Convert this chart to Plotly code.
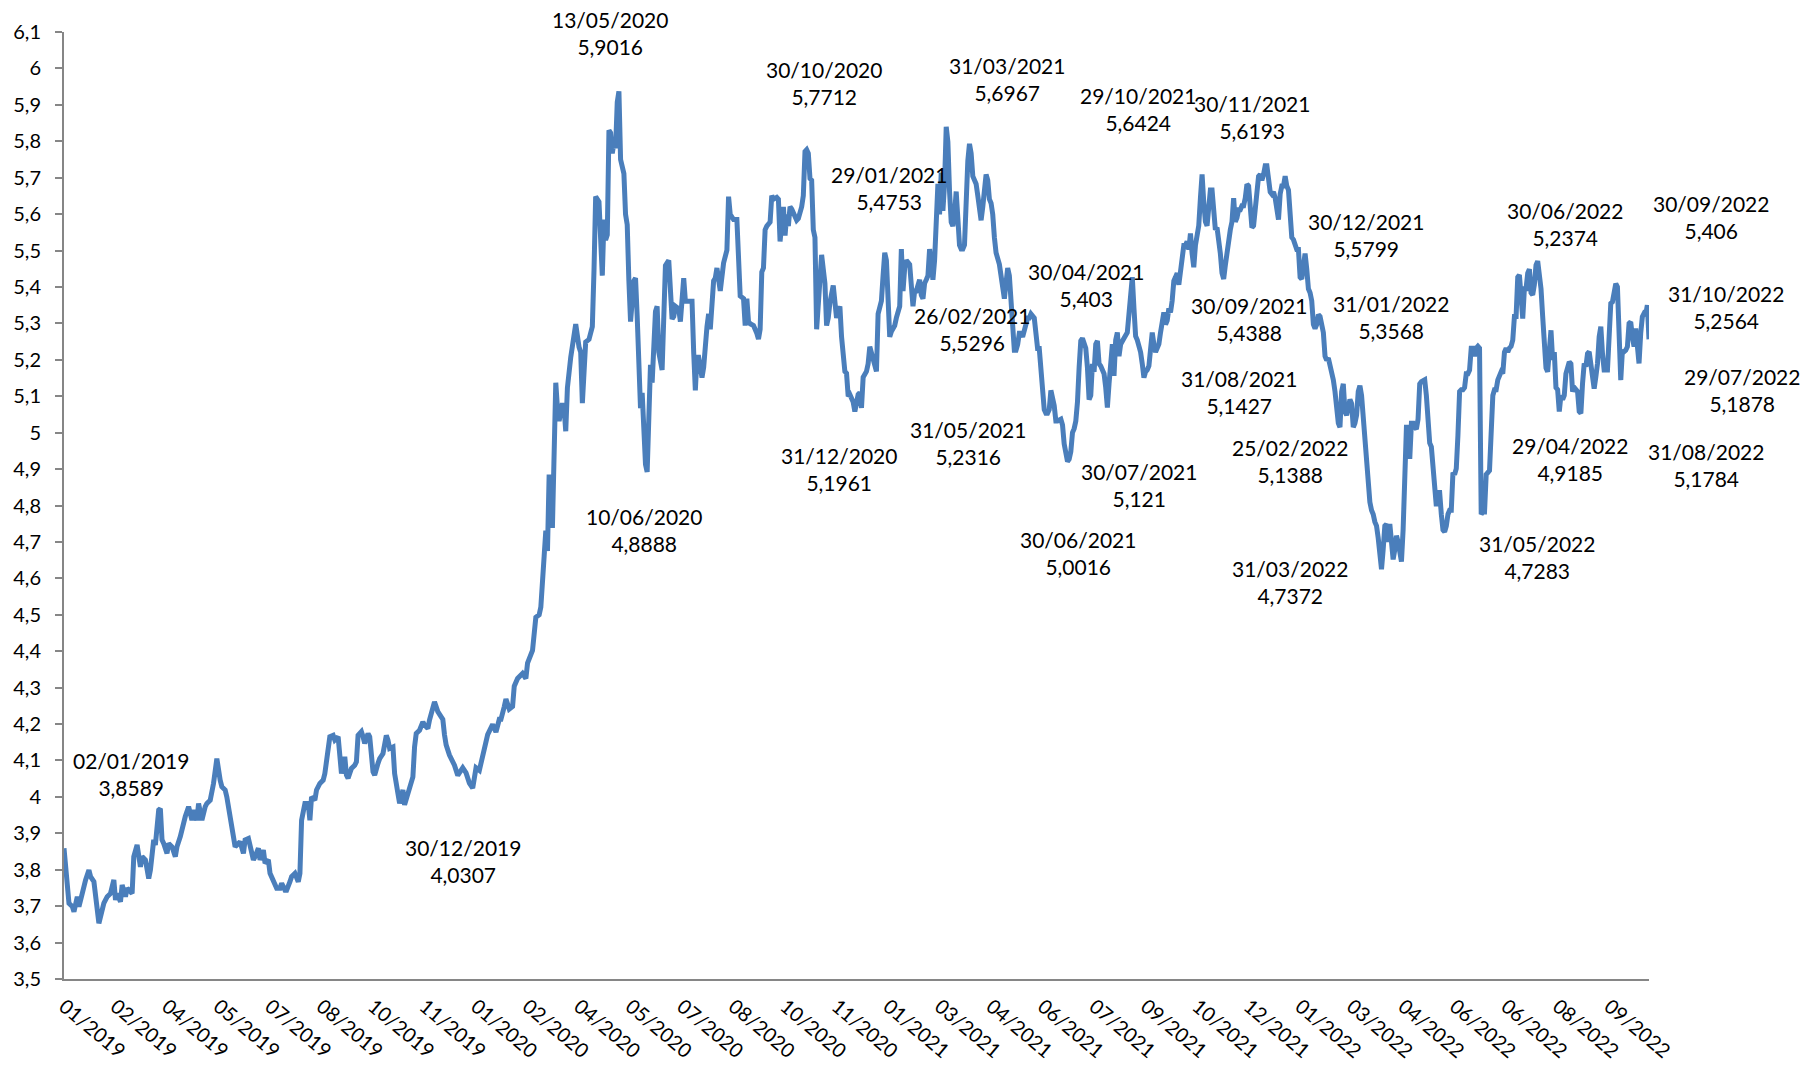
# Cotação diária do dólar (R$/US$), jan/2019 a out/2022
import plotly.graph_objects as go

# número do pregão (dia útil contado a partir de 02/01/2019) e cotação
pregao = [
    0, 2, 3, 5, 6, 8, 9, 11, 12, 13,
    15, 16, 18, 19, 21, 22, 24, 26, 28, 30,
    31, 32, 34, 35, 37, 38, 41, 42, 44, 46,
    47, 49, 51, 52, 54, 55, 57, 58, 59, 60,
    62, 63, 65, 67, 68, 70, 72, 73, 75, 77,
    78, 80, 81, 83, 85, 86, 88, 90, 92, 93,
    94, 95, 97, 98, 100, 102, 103, 105, 106, 108,
    109, 111, 112, 114, 115, 117, 118, 120, 121, 123,
    124, 126, 128, 130, 131, 133, 134, 136, 137, 139,
    141, 142, 143, 145, 147, 148, 149, 151, 152, 154,
    156, 157, 159, 160, 162, 163, 165, 166, 167, 169,
    170, 171, 173, 175, 176, 177, 179, 180, 181, 183,
    184, 186, 187, 189, 190, 192, 194, 195, 196, 198,
    199, 201, 202, 204, 205, 207, 208, 210, 211, 212,
    214, 216, 217, 219, 220, 222, 223, 225, 226, 228,
    229, 230, 232, 235, 237, 240, 242, 244, 246, 248,
    250, 253, 255, 258, 260, 262, 263, 265, 266, 268,
    270, 271, 273, 276, 278, 279, 281, 282, 284, 286,
    287, 288, 289, 290, 291, 292, 293, 294, 295, 296,
    297, 298, 300, 301, 302, 303, 305, 307, 308, 310,
    311, 312, 313, 314, 316, 318, 319, 320, 322, 323,
    324, 325, 326, 327, 328, 329, 330, 331, 332, 333,
    334, 335, 337, 338, 339, 340, 341, 343, 344, 345,
    346, 347, 348, 349, 350, 351, 352, 353, 354, 356,
    357, 358, 360, 361, 362, 363, 364, 366, 367, 368,
    370, 371, 372, 373, 374, 376, 378, 379, 380, 381,
    382, 384, 385, 387, 388, 389, 391, 392, 393, 395,
    396, 397, 399, 400, 401, 403, 405, 406, 407, 409,
    410, 411, 412, 413, 415, 417, 418, 419, 420, 421,
    422, 423, 425, 426, 427, 429, 430, 431, 433, 434,
    435, 436, 437, 438, 440, 441, 442, 444, 445, 446,
    447, 448, 449, 450, 451, 452, 453, 454, 455, 456,
    458, 459, 460, 461, 463, 464, 465, 467, 468, 470,
    471, 472, 473, 475, 476, 478, 479, 480, 481, 483,
    484, 485, 487, 488, 489, 490, 491, 492, 493, 494,
    495, 496, 497, 498, 500, 501, 503, 504, 505, 506,
    507, 509, 510, 511, 512, 513, 515, 516, 517, 518,
    519, 520, 521, 522, 523, 524, 525, 526, 527, 528,
    529, 530, 531, 532, 533, 534, 535, 536, 537, 538,
    539, 540, 541, 542, 543, 544, 545, 546, 547, 549,
    550, 551, 552, 553, 554, 555, 556, 557, 558, 559,
    560, 561, 563, 564, 565, 566, 567, 568, 569, 570,
    571, 572, 573, 574, 575, 576, 577, 578, 579, 580,
    581, 582, 584, 585, 586, 587, 588, 589, 590, 591,
    592, 593, 594, 595, 596, 597, 598, 600, 601, 602,
    603, 604, 605, 606, 607, 608, 609, 610, 611, 612,
    613, 615, 616, 617, 618, 619, 620, 621, 622, 623,
    624, 625, 626, 627, 628, 629, 630, 631, 632, 633,
    634, 635, 636, 637, 638, 640, 641, 642, 643, 644,
    645, 646, 648, 649, 650, 651, 652, 653, 654, 655,
    656, 657, 658, 659, 660, 661, 662, 663, 664, 665,
    666, 667, 668, 669, 670, 671, 672, 673, 674, 675,
    676, 677, 678, 679, 680, 681, 682, 683, 684, 685,
    686, 687, 688, 689, 690, 691, 692, 693, 694, 695,
    696, 697, 698, 699, 700, 701, 702, 703, 704, 705,
    706, 707, 708, 709, 710, 711, 712, 713, 714, 715,
    716, 717, 718, 719, 720, 721, 722, 723, 724, 725,
    726, 727, 728, 729, 730, 731, 732, 733, 734, 735,
    736, 737, 738, 739, 740, 741, 742, 743, 744, 745,
    746, 747, 748, 749, 750, 751, 752, 753, 754, 755,
    756, 757, 758, 759, 760, 761, 762, 763, 764, 765,
    766, 767, 768, 769, 770, 771, 772, 773, 774, 775,
    776, 777, 778, 779, 780, 781, 782, 783, 784, 785,
    786, 787, 788, 789, 790, 791, 792, 793, 794, 795,
    796, 797, 798, 799, 800, 801, 802, 803, 804, 805,
    806, 807, 808, 809, 810, 811, 812, 813, 814, 815,
    816, 817, 818, 819, 820, 821, 822, 823, 824, 825,
    826, 827, 828, 829, 830, 831, 832, 833, 834, 835,
    836, 837, 838, 839, 840, 841, 842, 843, 844, 845,
    846, 847, 848, 849, 850, 851, 852, 853, 854, 855,
    856, 858, 859, 860, 861, 862, 863, 864, 865, 866,
    867, 868, 869, 870, 871, 872, 873, 874, 875, 876,
    877, 878, 879, 880, 881, 882, 883, 884, 885, 886,
    887, 888, 889, 890, 891, 892, 893, 894, 895, 896,
    897, 898, 899, 900, 901, 902, 903, 904, 905, 906,
    907, 908, 909, 910, 911, 912, 913, 914, 915, 916,
    917, 918, 919, 920, 921, 922, 923, 924, 925, 926,
    927, 929, 930, 931, 932, 933, 934, 935, 936, 937,
    938, 939, 940, 941, 942, 943, 944, 945, 946, 947,
    948, 949, 950, 951, 952, 953, 954,
]
cotacao = [
    3.8589, 3.763, 3.708, 3.699, 3.685, 3.726, 3.699, 3.735, 3.758, 3.772,
    3.799, 3.781, 3.767, 3.726, 3.653, 3.671, 3.708, 3.726, 3.735, 3.772,
    3.717, 3.735, 3.712, 3.758, 3.726, 3.749, 3.735, 3.836, 3.868, 3.808,
    3.836, 3.827, 3.776, 3.799, 3.882, 3.868, 3.964, 3.968, 3.882, 3.872,
    3.845, 3.872, 3.863, 3.836, 3.863, 3.891, 3.936, 3.946, 3.973, 3.936,
    3.964, 3.936, 3.982, 3.936, 3.973, 3.982, 3.991, 4.037, 4.105, 4.064,
    4.046, 4.028, 4.019, 4.000, 3.946, 3.882, 3.863, 3.872, 3.877, 3.845,
    3.882, 3.886, 3.863, 3.827, 3.836, 3.859, 3.827, 3.854, 3.818, 3.827,
    3.790, 3.772, 3.749, 3.749, 3.763, 3.744, 3.744, 3.767, 3.781, 3.790,
    3.767, 3.790, 3.936, 3.982, 3.982, 3.936, 4.000, 3.991, 4.019, 4.037,
    4.046, 4.064, 4.128, 4.165, 4.169, 4.156, 4.165, 4.101, 4.064, 4.110,
    4.060, 4.051, 4.078, 4.087, 4.096, 4.169, 4.179, 4.165, 4.147, 4.174,
    4.165, 4.069, 4.060, 4.092, 4.105, 4.119, 4.169, 4.156, 4.133, 4.137,
    4.064, 4.009, 3.982, 4.019, 3.978, 4.009, 4.028, 4.055, 4.137, 4.174,
    4.183, 4.206, 4.197, 4.188, 4.211, 4.252, 4.261, 4.234, 4.227, 4.213,
    4.171, 4.143, 4.115, 4.087, 4.059, 4.080, 4.066, 4.038, 4.024, 4.080,
    4.073, 4.136, 4.171, 4.199, 4.178, 4.213, 4.213, 4.248, 4.269, 4.241,
    4.248, 4.304, 4.325, 4.339, 4.325, 4.367, 4.388, 4.402, 4.493, 4.500,
    4.521, 4.633, 4.661, 4.731, 4.675, 4.885, 4.745, 4.745, 5.011, 5.137,
    5.067, 5.032, 5.081, 5.067, 5.004, 5.123, 5.207, 5.277, 5.298, 5.235,
    5.221, 5.081, 5.193, 5.249, 5.256, 5.291, 5.445, 5.648, 5.634, 5.515,
    5.431, 5.585, 5.529, 5.543, 5.830, 5.823, 5.767, 5.795, 5.781, 5.907,
    5.937, 5.750, 5.711, 5.599, 5.571, 5.417, 5.305, 5.417, 5.424, 5.319,
    5.207, 5.067, 5.109, 4.983, 4.913, 4.892, 5.039, 5.186, 5.137, 5.333,
    5.347, 5.221, 5.172, 5.291, 5.459, 5.466, 5.473, 5.312, 5.319, 5.347,
    5.340, 5.305, 5.361, 5.424, 5.361, 5.361, 5.361, 5.221, 5.116, 5.207,
    5.207, 5.151, 5.179, 5.291, 5.326, 5.284, 5.417, 5.424, 5.452, 5.389,
    5.445, 5.466, 5.501, 5.648, 5.599, 5.585, 5.585, 5.473, 5.375, 5.368,
    5.294, 5.368, 5.305, 5.299, 5.294, 5.273, 5.257, 5.284, 5.441, 5.452,
    5.557, 5.567, 5.578, 5.651, 5.641, 5.646, 5.641, 5.525, 5.620, 5.541,
    5.599, 5.567, 5.620, 5.614, 5.588, 5.583, 5.588, 5.620, 5.651, 5.772,
    5.777, 5.767, 5.698, 5.693, 5.557, 5.536, 5.284, 5.347, 5.441, 5.488,
    5.410, 5.294, 5.315, 5.357, 5.404, 5.347, 5.315, 5.347, 5.263, 5.168,
    5.163, 5.100, 5.105, 5.084, 5.058, 5.105, 5.110, 5.068, 5.152, 5.168,
    5.189, 5.236, 5.200, 5.189, 5.168, 5.326, 5.347, 5.362, 5.431, 5.494,
    5.473, 5.357, 5.263, 5.278, 5.294, 5.315, 5.347, 5.504, 5.389, 5.452,
    5.473, 5.462, 5.404, 5.347, 5.389, 5.389, 5.420, 5.378, 5.368, 5.410,
    5.420, 5.431, 5.504, 5.452, 5.420, 5.473, 5.557, 5.683, 5.599, 5.714,
    5.609, 5.683, 5.840, 5.798, 5.662, 5.578, 5.567, 5.599, 5.662, 5.588,
    5.515, 5.504, 5.504, 5.515, 5.662, 5.746, 5.793, 5.767, 5.704, 5.683,
    5.651, 5.599, 5.583, 5.620, 5.683, 5.709, 5.693, 5.641, 5.630, 5.599,
    5.536, 5.494, 5.462, 5.431, 5.389, 5.368, 5.410, 5.452, 5.431, 5.347,
    5.263, 5.226, 5.226, 5.242, 5.273, 5.273, 5.263, 5.284, 5.305, 5.315,
    5.315, 5.326, 5.315, 5.284, 5.231, 5.231, 5.168, 5.116, 5.063, 5.053,
    5.053, 5.063, 5.116, 5.095, 5.074, 5.032, 5.032, 5.037, 5.021, 4.969,
    4.932, 4.921, 4.927, 4.948, 5.000, 5.011, 5.032, 5.084, 5.179, 5.252,
    5.259, 5.232, 5.178, 5.091, 5.102, 5.189, 5.167, 5.243, 5.252, 5.189,
    5.183, 5.172, 5.162, 5.124, 5.069, 5.134, 5.221, 5.243, 5.156, 5.254,
    5.275, 5.210, 5.243, 5.254, 5.259, 5.275, 5.330, 5.406, 5.427, 5.341,
    5.265, 5.254, 5.221, 5.189, 5.151, 5.167, 5.172, 5.183, 5.232, 5.275,
    5.243, 5.221, 5.232, 5.243, 5.275, 5.308, 5.330, 5.297, 5.308, 5.341,
    5.330, 5.362, 5.417, 5.427, 5.438, 5.406, 5.449, 5.503, 5.514, 5.514,
    5.525, 5.503, 5.547, 5.492, 5.454, 5.514, 5.557, 5.568, 5.644, 5.709,
    5.633, 5.579, 5.568, 5.623, 5.666, 5.666, 5.623, 5.557, 5.563, 5.536,
    5.492, 5.438, 5.422, 5.460, 5.503, 5.536, 5.557, 5.579, 5.644, 5.579,
    5.590, 5.612, 5.612, 5.623, 5.623, 5.644, 5.682, 5.677, 5.612, 5.563,
    5.568, 5.612, 5.644, 5.704, 5.709, 5.693, 5.709, 5.733, 5.733, 5.704,
    5.661, 5.655, 5.661, 5.644, 5.601, 5.585, 5.655, 5.677, 5.677, 5.704,
    5.677, 5.666, 5.601, 5.536, 5.530, 5.519, 5.503, 5.503, 5.427, 5.422,
    5.471, 5.492, 5.449, 5.395, 5.384, 5.362, 5.297, 5.286, 5.297, 5.324,
    5.319, 5.286, 5.275, 5.210, 5.199, 5.205, 5.189, 5.162, 5.145, 5.113,
    5.069, 5.026, 5.015, 5.113, 5.134, 5.058, 5.048, 5.069, 5.091, 5.080,
    5.015, 5.026, 5.048, 5.113, 5.129, 5.102, 5.037, 4.972, 4.917, 4.863,
    4.809, 4.787, 4.776, 4.755, 4.744, 4.711, 4.657, 4.625, 4.679, 4.744,
    4.749, 4.700, 4.749, 4.700, 4.652, 4.679, 4.717, 4.700, 4.657, 4.646,
    4.733, 4.917, 5.015, 5.015, 4.928, 5.026, 5.026, 5.015, 5.010, 5.037,
    5.134, 5.140, 5.145, 5.145, 5.102, 5.048, 4.972, 4.961, 4.907, 4.852,
    4.798, 4.836, 4.836, 4.776, 4.733, 4.728, 4.744, 4.776, 4.787, 4.787,
    4.890, 4.885, 4.901, 4.993, 5.113, 5.118, 5.118, 5.124, 5.162, 5.162,
    5.172, 5.232, 5.232, 5.210, 5.232, 5.237, 5.232, 4.776, 4.782, 4.782,
    4.885, 4.896, 4.993, 5.102, 5.118, 5.118, 5.145, 5.162, 5.167, 5.162,
    5.221, 5.232, 5.221, 5.232, 5.237, 5.254, 5.319, 5.319, 5.427, 5.433,
    5.362, 5.313, 5.395, 5.395, 5.438, 5.449, 5.384, 5.378, 5.406, 5.460,
    5.471, 5.438, 5.395, 5.319, 5.232, 5.178, 5.167, 5.232, 5.281, 5.200,
    5.221, 5.124, 5.118, 5.058, 5.102, 5.091, 5.102, 5.162, 5.178, 5.194,
    5.189, 5.113, 5.124, 5.118, 5.113, 5.058, 5.053, 5.135, 5.190, 5.181,
    5.217, 5.222, 5.190, 5.153, 5.121, 5.153, 5.190, 5.263, 5.291, 5.217,
    5.172, 5.172, 5.263, 5.355, 5.359, 5.382, 5.409, 5.400, 5.263, 5.144,
    5.226, 5.222, 5.226, 5.236, 5.300, 5.304, 5.263, 5.236, 5.286, 5.226,
    5.190, 5.272, 5.318, 5.327, 5.323, 5.350, 5.2564,
]

# eixo x: um rótulo a cada 31 pregões
passo_rotulo = 31
rotulos_x = [
    "01/2019", "02/2019", "04/2019", "05/2019", "07/2019", "08/2019",
    "10/2019", "11/2019", "01/2020", "02/2020", "04/2020", "05/2020",
    "07/2020", "08/2020", "10/2020", "11/2020", "01/2021", "03/2021",
    "04/2021", "06/2021", "07/2021", "09/2021", "10/2021", "12/2021",
    "01/2022", "03/2022", "04/2022", "06/2022", "06/2022", "08/2022",
    "09/2022",
]

# rótulos de data e valor espalhados pelo gráfico
datas_rotulo = [
    "02/01/2019", "30/12/2019", "13/05/2020", "10/06/2020", "30/10/2020",
    "31/12/2020", "29/01/2021", "26/02/2021", "31/03/2021", "31/05/2021",
    "30/04/2021", "30/06/2021", "29/10/2021", "30/07/2021", "30/11/2021",
    "30/09/2021", "31/08/2021", "30/12/2021", "31/01/2022", "25/02/2022",
    "31/03/2022", "30/06/2022", "29/04/2022", "31/05/2022", "30/09/2022",
    "31/10/2022", "29/07/2022", "31/08/2022",
]
valores_rotulo = [
    "3,8589", "4,0307", "5,9016", "4,8888", "5,7712",
    "5,1961", "5,4753", "5,5296", "5,6967", "5,2316",
    "5,403", "5,0016", "5,6424", "5,121", "5,6193",
    "5,4388", "5,1427", "5,5799", "5,3568", "5,1388",
    "4,7372", "5,2374", "4,9185", "4,7283", "5,406",
    "5,2564", "5,1878", "5,1784",
]

# centro de cada rótulo, em pixels da figura (1807 x 1074)
pos_rotulo = [
    (131, 774), (463, 861), (610, 33), (644, 530), (824, 83),
    (839, 469), (889, 188), (972, 329), (1007, 79), (968, 443),
    (1086, 285), (1078, 553), (1138, 109), (1139, 485), (1252, 117),
    (1249, 319), (1239, 392), (1366, 235), (1391, 317), (1290, 461),
    (1290, 582), (1565, 224), (1570, 459), (1537, 557), (1711, 217),
    (1726, 307), (1742, 390), (1706, 465),
]

W, H = 1807, 1074
ML, MR, MT, MB = 64, 158, 32, 95
AXIS_GRAY = "#868686"
LINE_BLUE = "#4a7ebb"


def to_paper(px, py):
    """Pixel position on the figure -> paper coordinates."""
    return (px - ML) / (W - ML - MR), (H - MB - py) / (H - MT - MB)


fig = go.Figure()
fig.add_trace(go.Scatter(
    x=pregao,
    y=cotacao,
    mode="lines",
    line=dict(color=LINE_BLUE, width=5),
    hoverinfo="skip",
    showlegend=False,
))

for data, valor, (px, py) in zip(datas_rotulo, valores_rotulo, pos_rotulo):
    xp, yp = to_paper(px, py)
    fig.add_annotation(
        x=xp, y=yp, xref="paper", yref="paper",
        text=f"{data}<br>{valor}",
        showarrow=False,
        xanchor="center", yanchor="middle",
        font=dict(size=21, color="#000000"),
    )

fig.update_layout(
    width=W,
    height=H,
    margin=dict(l=ML, r=MR, t=MT, b=MB),
    plot_bgcolor="white",
    paper_bgcolor="white",
    separators=",.",
    font=dict(family="Lato, sans-serif", color="#000000", size=20),
    xaxis=dict(
        range=[0, pregao[-1]],
        tickvals=list(range(0, pregao[-1] + 1, passo_rotulo)),
        ticktext=rotulos_x,
        tickangle=40,
        ticks="",
        ticklabelstandoff=6,
        showline=True, linecolor=AXIS_GRAY, linewidth=2,
        showgrid=False, zeroline=False, automargin=False,
    ),
    yaxis=dict(
        range=[3.5, 6.1],
        tick0=3.5, dtick=0.1,
        ticks="outside", ticklen=7, tickwidth=2, tickcolor=AXIS_GRAY,
        ticklabelstandoff=10,
        showline=True, linecolor=AXIS_GRAY, linewidth=2,
        showgrid=False, zeroline=False, automargin=False,
    ),
)

fig.write_html(
    "out.html",
    config={"displayModeBar": False},
    post_script="document.body.style.margin='0';",
)
